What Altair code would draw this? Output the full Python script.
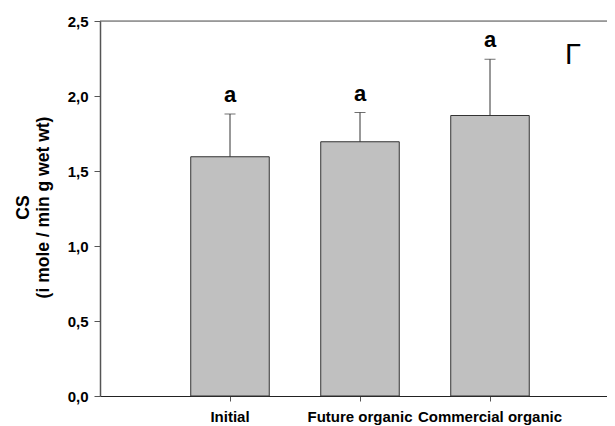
import altair as alt
import pandas as pd

categories = ["Initial", "Future organic", "Commercial organic"]
means = [1.595, 1.695, 1.87]
errors = [0.285, 0.195, 0.375]
letters = ["a", "a", "a"]
y_ticks = [0.0, 0.5, 1.0, 1.5, 2.0, 2.5]
panel_label = "Γ"

df = pd.DataFrame({
    "cat": categories,
    "mean": means,
    "top": [m + e for m, e in zip(means, errors)],
    "letter": letters,
})

FONT = "Liberation Sans"

x_enc = alt.X(
    "cat:N",
    sort=categories,
    scale=alt.Scale(paddingInner=0.396, paddingOuter=0.648, align=0.5386),
    axis=alt.Axis(
        title=None, labelAngle=0, labelFont=FONT, labelFontSize=15,
        labelFontWeight="bold", labelColor="#000", domainColor="#222",
        tickColor="#555", tickSize=5, labelPadding=8,
    ),
)
y_scale = alt.Scale(domain=[0, 2.5], nice=False)

bars = alt.Chart(df).mark_bar(
    fill="#c0c0c0", stroke="#333", strokeWidth=1
).encode(
    x=x_enc,
    y=alt.Y(
        "mean:Q", scale=y_scale,
        axis=alt.Axis(
            values=y_ticks, grid=False,
            labelExpr="replace(format(datum.value, '.1f'), '.', ',')",
            labelFont=FONT, labelFontSize=15, labelFontWeight="bold",
            labelColor="#000", domainColor="#555", domainWidth=1.5,
            tickColor="#555", tickSize=6, labelPadding=6,
            title=["CS", "(i mole / min g wet wt)"],
            titleFont=FONT, titleFontSize=17.5, titleFontWeight="bold",
            titleColor="#000", titleAngle=270, titleBaseline="top",
            titleAlign="center", titleX=-86, titleY=186, titleLineHeight=20,
        ),
    ),
)

err = alt.Chart(df).mark_rule(color="#333", strokeWidth=1).encode(
    x=alt.X("cat:N", sort=categories),
    y=alt.Y("mean:Q", scale=y_scale),
    y2="top:Q",
)
caps = alt.Chart(df).mark_tick(color="#333", thickness=1, size=11).encode(
    x=alt.X("cat:N", sort=categories),
    y=alt.Y("top:Q", scale=y_scale),
)
text = alt.Chart(df).mark_text(
    font=FONT, fontSize=22, fontWeight="bold", color="#000",
    baseline="alphabetic", dy=-12,
).encode(
    x=alt.X("cat:N", sort=categories),
    y=alt.Y("top:Q", scale=y_scale),
    text="letter:N",
)
top_line = alt.Chart(pd.DataFrame({"v": [y_ticks[-1]]})).mark_rule(
    color="#555", strokeWidth=1
).encode(y=alt.Y("v:Q", scale=y_scale))

gamma = alt.Chart(pd.DataFrame({"t": [panel_label]})).mark_text(
    font=FONT, fontSize=29, color="#000", align="left", baseline="alphabetic",
).encode(x=alt.value(465), y=alt.value(43), text="t:N")

chart = alt.layer(bars, err, caps, text, top_line, gamma).properties(
    width=507, height=375,
    autosize=alt.AutoSizeParams(type="none"),
    padding={"left": 92, "top": 13, "right": 0, "bottom": 30},
).configure_view(stroke=None).configure(background="white")

chart.save("out.html", embed_options={"renderer": "svg", "actions": False})
